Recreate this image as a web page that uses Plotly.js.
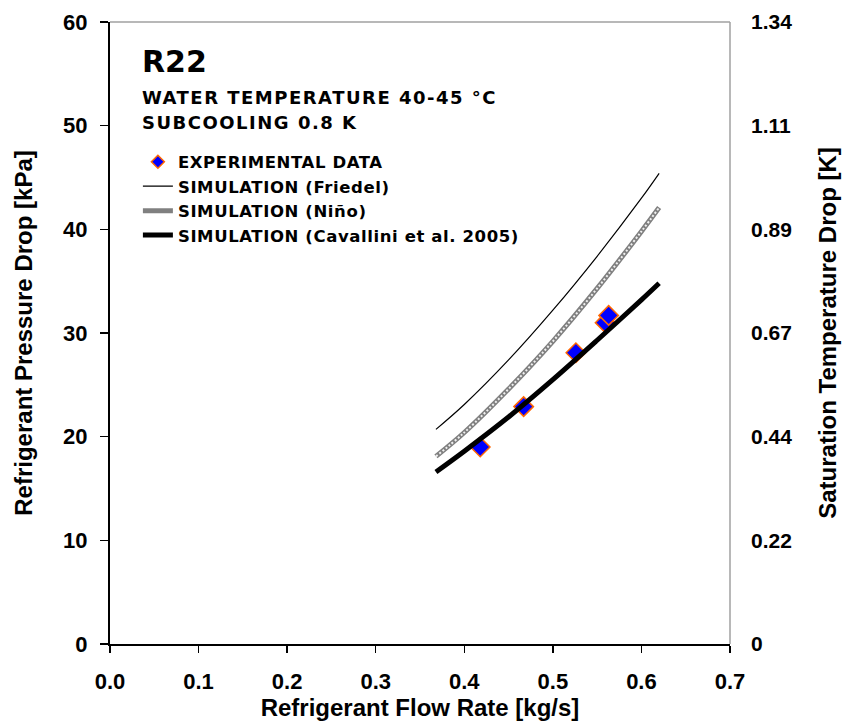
<!DOCTYPE html>
<html><head><meta charset="utf-8">
<script src="https://cdn.plot.ly/plotly-3.0.1.min.js"></script>
<style>
html,body{margin:0;padding:0;background:#fff}
#chart{width:846px;height:722px}
.annotation-text.spaced{letter-spacing:1.5px}
.legendtext{letter-spacing:0.6px}
</style>
</head><body><div id="chart"></div>
<script>
// Experimental data
const expFlow = [0.418, 0.467, 0.526, 0.559, 0.563];
const expDP   = [19.0, 22.9, 28.1, 31.0, 31.7];
// Simulation curves
const simFlow     = [0.368, 0.40, 0.45, 0.50, 0.55, 0.60, 0.62];
const friedelDP   = [20.7, 23.1, 27.4, 32.2, 37.4, 43.0, 45.4];
const ninoDP      = [18.1, 20.4, 24.6, 29.2, 34.3, 39.8, 42.1];
const cavalliniDP = [16.6, 18.6, 21.9, 25.5, 29.3, 33.2, 34.8];
// Axis ticks
const xTicks = [0, 0.1, 0.2, 0.3, 0.4, 0.5, 0.6, 0.7];
const xTickText = ['0.0','0.1','0.2','0.3','0.4','0.5','0.6','0.7'];
const yTicks = [0, 10, 20, 30, 40, 50, 60];
const y2TickText = ['0','0.22','0.44','0.67','0.89','1.11','1.34'];

const bold = 'Liberation Sans, Arial, sans-serif';
const narrow = 'Liberation Sans Narrow, Arial Narrow, Liberation Sans, Arial, sans-serif';
const wide = 'DejaVu Sans, Verdana, sans-serif';

const traces = [
  {x: expFlow, y: expDP, mode: 'markers', name: 'EXPERIMENTAL DATA', showlegend: false,
   marker: {symbol: 'diamond', size: 15, color: '#0000ff', line: {color: '#ff6600', width: 1.5}}},
  {x: [null], y: [null], mode: 'markers', name: '<b>EXPERIMENTAL DATA</b>',
   marker: {symbol: 'diamond', size: 10, color: '#0000ff', line: {color: '#ff6600', width: 1.5}}},
  {x: simFlow, y: friedelDP, mode: 'lines', name: '<b>SIMULATION (Friedel)</b>',
   line: {color: '#000', width: 1.2, shape: 'spline'}},
  {x: simFlow, y: ninoDP, mode: 'lines', name: '<b>SIMULATION (Niño)</b>',
   line: {color: '#808080', width: 5, shape: 'spline'}},
  {x: simFlow, y: ninoDP, mode: 'lines', showlegend: false, hoverinfo: 'skip',
   line: {color: '#f0f0f0', width: 2, dash: '2px,2px', shape: 'spline'}},
  {x: simFlow, y: cavalliniDP, mode: 'lines', name: '<b>SIMULATION (Cavallini et al. 2005)</b>',
   line: {color: '#000', width: 5, shape: 'spline'}},
  {x: [0.5], y: [0], yaxis: 'y2', mode: 'markers', showlegend: false, hoverinfo: 'skip',
   marker: {opacity: 0}}
];

const layout = {
  width: 846, height: 722,
  margin: {l: 110, r: 116, t: 22, b: 78},
  paper_bgcolor: '#fff', plot_bgcolor: '#fff',
  showlegend: true,
  legend: {x: 0.045, y: 0.803, xanchor: 'left', yanchor: 'top', bgcolor: 'rgba(0,0,0,0)',
           font: {family: wide, size: 16.5, color: '#000'}, tracegroupgap: 0,
           itemsizing: 'trace'},
  xaxis: {range: [0, 0.7], tickvals: xTicks, ticktext: xTickText, showgrid: false, zeroline: false,
          showline: true, linecolor: '#000', linewidth: 2, ticks: 'outside', ticklen: 7, tickcolor: '#000', tickwidth: 1.5,
          ticklabelstandoff: 10,
          tickfont: {family: bold, size: 22, color: '#000', weight: 'bold'},
          title: {text: '<b>Refrigerant Flow Rate [kg/s]</b>', font: {family: narrow, size: 24, color: '#000'}, standoff: 4}},
  yaxis: {range: [0, 60], tickvals: yTicks, showgrid: false, zeroline: false,
          showline: true, linecolor: '#000', linewidth: 2, ticks: 'outside', ticklen: 8, tickcolor: '#000', tickwidth: 1.5,
          ticklabelstandoff: 8,
          tickfont: {family: bold, size: 22, color: '#000', weight: 'bold'},
          title: {text: '<b>Refrigerant Pressure Drop [kPa]</b>', font: {family: narrow, size: 24, color: '#000'}, standoff: 24}},
  yaxis2: {range: [0, 60], overlaying: 'y', side: 'right', tickvals: yTicks, ticktext: y2TickText,
           showgrid: false, zeroline: false, showline: false, ticks: '', ticklabelstandoff: 20,
           tickfont: {family: bold, size: 21, color: '#000', weight: 'bold'},
           title: {text: '<b>Saturation Temperature Drop [K]</b>', font: {family: narrow, size: 24, color: '#000'}, standoff: 28}},
  shapes: [
    {type: 'line', xref: 'paper', yref: 'paper', x0: 0, x1: 1, y0: 1, y1: 1, line: {color: '#a0a0a0', width: 1.5}},
    {type: 'line', xref: 'paper', yref: 'paper', x0: 1, x1: 1, y0: 0, y1: 1, line: {color: '#a0a0a0', width: 1.5}}
  ],
  annotations: [
    {xref: 'paper', yref: 'paper', x: 0.048, y: 0.937, xanchor: 'left', yanchor: 'middle', align: 'left', showarrow: false,
     text: '<b>R22</b>', font: {family: wide, size: 30, color: '#000'}},
    {xref: 'paper', yref: 'paper', x: 0.048, y: 0.879, xanchor: 'left', yanchor: 'middle', align: 'left', showarrow: false,
     text: '<b>WATER TEMPERATURE 40-45 °C</b>', font: {family: wide, size: 18, color: '#000'}},
    {xref: 'paper', yref: 'paper', x: 0.048, y: 0.839, xanchor: 'left', yanchor: 'middle', align: 'left', showarrow: false,
     text: '<b>SUBCOOLING 0.8 K</b>', font: {family: wide, size: 18, color: '#000'}}
  ]
};

Plotly.newPlot('chart', traces, layout, {displayModeBar: false, staticPlot: true}).then(function(gd){
  const ann = gd.querySelectorAll('.annotation-text');
  for (let i = 1; i < ann.length; i++) ann[i].classList.add('spaced');
});
</script></body></html>
